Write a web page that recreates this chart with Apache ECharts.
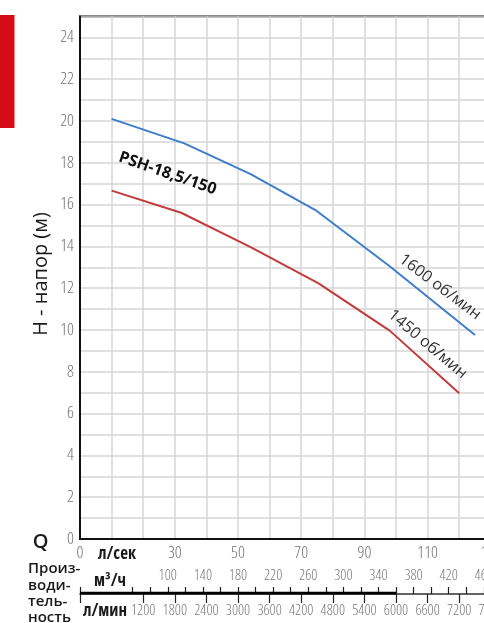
<!DOCTYPE html>
<html>
<head>
<meta charset="utf-8">
<script src="https://cdn.jsdelivr.net/npm/echarts@6/dist/echarts.min.js"></script>
<style>
html,body{margin:0;padding:0;background:#fff;}
#c{width:484px;height:623px;}
</style>
</head>
<body>
<div id="c"></div>
<script>
// ---- data ----
const q1600 = [10, 33, 54, 74.5, 98, 125];          // flow, l/s
const h1600 = [20.1, 18.93, 17.46, 15.74, 13.05, 9.76]; // head, m
const q1450 = [10, 32, 54, 75.5, 98, 120];
const h1450 = [16.67, 15.61, 13.97, 12.23, 9.97, 6.97];

const xLabelsLs = [0, 30, 50, 70, 90, 110, 130];
const yLabels = [0, 2, 4, 6, 8, 10, 12, 14, 16, 18, 20, 22, 24];
const m3hLabels = [100, 140, 180, 220, 260, 300, 340, 380, 420, 460];
const m3hTicks = [0, 60, 80, 100, 120, 140, 160, 180, 200, 220, 240, 260, 280, 300, 320, 340, 360, 380, 400, 420, 440, 460];
const lminLabels = [1200, 1800, 2400, 3000, 3600, 4200, 4800, 5400, 6000, 6600, 7200, 7800];
const lminTicks = [0, 1200, 1800, 2400, 3000, 3600, 4200, 4800, 5400, 6000, 6600, 7200, 7800];
const boldSpanM3h = [0, 360];

const pumpName = 'PSH-18,5/150';
const label1600 = '1600 об/мин';
const label1450 = '1450 об/мин';

// ---- chart ----
const chart = echarts.init(document.getElementById('c'), null, {renderer: 'canvas'});
const zip = (a, b) => a.map((v, i) => [v, b[i]]);
const mainFont = "'Open Sans', 'DejaVu Sans', sans-serif";
const qMax = 130;
const plain = v => String(Math.round(v));

const option = {
  animation: false,
  backgroundColor: '#fff',
  grid: [
    {left: 80, top: 16.5, width: 410.8, height: 522.5, show: true, borderColor: '#111', borderWidth: 2, backgroundColor: 'transparent', outerBoundsMode: 'none', containLabel: false},
    {left: 80, top: 593, width: 410.8, height: 1, outerBoundsMode: 'none', containLabel: false}
  ],
  xAxis: [
    {
      gridIndex: 0, type: 'value', min: 0, max: qMax, interval: 10,
      axisLine: {show: true, lineStyle: {color: '#111', width: 2}},
      axisTick: {show: false},
      splitLine: {show: true, lineStyle: {color: '#d6d6d6', width: 1.5}},
      axisLabel: {customValues: xLabelsLs, formatter: plain, hideOverlap: false, showMinLabel: true, showMaxLabel: true, margin: 6, color: '#737373', fontSize: 17, fontFamily: mainFont, fontWeight: '300 semi-condensed'}
    },
    {
      gridIndex: 1, type: 'value', position: 'top', min: 0, max: qMax * 3.6,
      axisLine: {show: true, lineStyle: {color: '#333', width: 1.5}},
      axisTick: {show: true, customValues: m3hTicks, length: 7, inside: false, lineStyle: {color: '#222', width: 1.2}},
      splitLine: {show: false},
      axisLabel: {customValues: m3hLabels, formatter: plain, hideOverlap: false, showMinLabel: true, showMaxLabel: true, margin: 10, color: '#7a7a7a', fontSize: 15, fontFamily: mainFont, fontWeight: '300 condensed'}
    },
    {
      gridIndex: 1, type: 'value', position: 'bottom', min: 0, max: qMax * 60,
      axisLine: {show: false},
      axisTick: {show: true, customValues: lminTicks, length: 9, inside: false, lineStyle: {color: '#222', width: 1.2}},
      splitLine: {show: false},
      axisLabel: {customValues: lminLabels, formatter: plain, hideOverlap: false, showMinLabel: true, showMaxLabel: true, margin: 9, color: '#7a7a7a', fontSize: 15, fontFamily: mainFont, fontWeight: '300 condensed'}
    }
  ],
  yAxis: [
    {
      gridIndex: 0, type: 'value', min: 0, max: 25, interval: 1,
      axisLine: {show: true, lineStyle: {color: '#111', width: 2}},
      axisTick: {show: false},
      splitLine: {show: true, lineStyle: {color: '#d6d6d6', width: 1.5}},
      axisLabel: {customValues: yLabels, formatter: plain, showMinLabel: true, margin: 6, color: '#737373', fontSize: 17, fontFamily: mainFont, fontWeight: '300 semi-condensed'}
    },
    {gridIndex: 1, type: 'value', min: 0, max: 1, show: false}
  ],
  series: [
    {
      type: 'line', xAxisIndex: 0, yAxisIndex: 0, data: zip(q1600, h1600),
      symbol: 'none', lineStyle: {color: '#3f7dc8', width: 2}, z: 5,
      markPoint: {
        symbol: 'circle', symbolSize: 0, silent: true,
        data: [
          {coord: [27.7, 17.49], label: {show: true, formatter: pumpName, rotate: -19, color: '#111', fontSize: 16, fontWeight: 'bold', fontFamily: mainFont}},
          {coord: [113.9, 12.06], label: {show: true, formatter: label1600, rotate: -37, color: '#333', fontSize: 16, fontFamily: mainFont}}
        ]
      }
    },
    {
      type: 'line', xAxisIndex: 0, yAxisIndex: 0, data: zip(q1450, h1450),
      symbol: 'none', lineStyle: {color: '#c23b3b', width: 2}, z: 5,
      markPoint: {
        symbol: 'circle', symbolSize: 0, silent: true,
        data: [
          {coord: [110.0, 9.32], label: {show: true, formatter: label1450, rotate: -40, color: '#333', fontSize: 16, fontFamily: mainFont}}
        ]
      }
    },
    {
      type: 'line', xAxisIndex: 1, yAxisIndex: 1, data: boldSpanM3h.map(v => [v, 1]),
      symbol: 'none', lineStyle: {color: '#000', width: 3}, z: 6
    }
  ],
  graphic: [
    {type: 'rect', shape: {x: 0, y: 15, width: 14.5, height: 113}, style: {fill: '#d50b16'}},
    {type: 'text', x: 41, y: 274, rotation: Math.PI / 2, style: {text: 'H - напор (м)', font: "20px 'Open Sans', sans-serif", fill: '#1a1a1a', textAlign: 'center', textVerticalAlign: 'middle'}},
    {type: 'text', x: 40.5, y: 542, style: {text: 'Q', font: "600 20px 'Open Sans', sans-serif", fill: '#1a1a1a', textAlign: 'center', textVerticalAlign: 'middle'}},
    {type: 'text', x: 117, y: 554, style: {text: 'л/сек', font: "bold semi-condensed 17px 'Open Sans', sans-serif", fill: '#1a1a1a', textAlign: 'center', textVerticalAlign: 'middle'}},
    {type: 'text', x: 110, y: 581, style: {text: 'м³/ч', font: "bold semi-condensed 17px 'Open Sans', sans-serif", fill: '#1a1a1a', textAlign: 'center', textVerticalAlign: 'middle'}},
    {type: 'text', x: 105, y: 611, style: {text: 'л/мин', font: "bold semi-condensed 17px 'Open Sans', sans-serif", fill: '#1a1a1a', textAlign: 'center', textVerticalAlign: 'middle'}},
    {type: 'text', x: 28, y: 569, style: {text: 'Произ-', font: "600 15px 'Open Sans', sans-serif", fill: '#1a1a1a', textAlign: 'left', textVerticalAlign: 'middle'}},
    {type: 'text', x: 28, y: 585.5, style: {text: 'води-', font: "600 15px 'Open Sans', sans-serif", fill: '#1a1a1a', textAlign: 'left', textVerticalAlign: 'middle'}},
    {type: 'text', x: 28, y: 602, style: {text: 'тель-', font: "600 15px 'Open Sans', sans-serif", fill: '#1a1a1a', textAlign: 'left', textVerticalAlign: 'middle'}},
    {type: 'text', x: 28, y: 618, style: {text: 'ность', font: "600 15px 'Open Sans', sans-serif", fill: '#1a1a1a', textAlign: 'left', textVerticalAlign: 'middle'}}
  ]
};
chart.setOption(option);
</script>
</body>
</html>
